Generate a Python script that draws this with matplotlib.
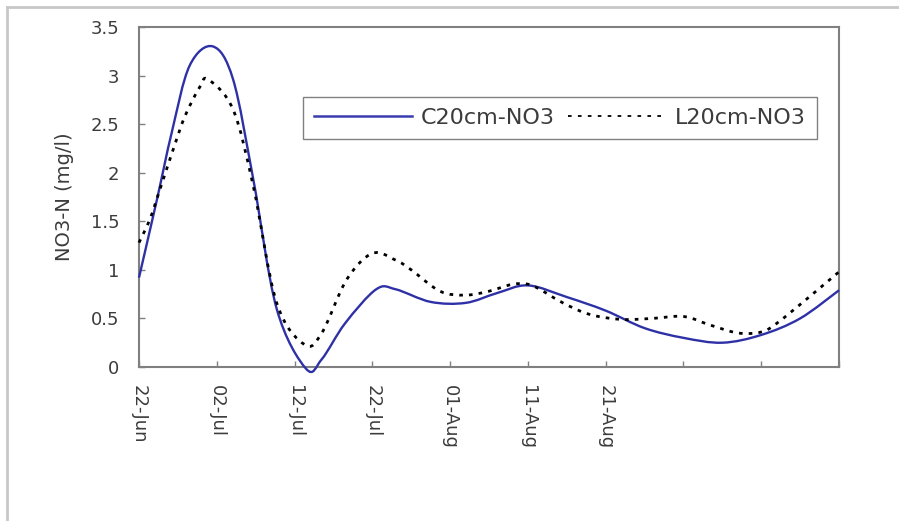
import matplotlib
matplotlib.use("Agg")
import matplotlib.pyplot as plt
from matplotlib.path import Path
from matplotlib.patches import PathPatch
from matplotlib.lines import Line2D
import numpy as np

# days after 22-Jun and NO3-N readings (mg/l)
c20_days = [0, 2.3, 4.2, 6.5, 9.5, 12.1, 14.7, 17.7, 21.5, 23.5, 26.5, 30.5,
            33, 37.5, 42, 46, 50, 55, 60, 65, 70, 75, 80, 85, 90]
c20_no3 = [0.92, 1.72, 2.41, 3.10, 3.30, 2.96, 1.93, 0.60, -0.02, 0.08, 0.45, 0.80,
           0.80, 0.67, 0.66, 0.76, 0.84, 0.72, 0.58, 0.40, 0.30, 0.25, 0.33, 0.50, 0.79]

l20_days = [0, 1.4, 2.7, 4.4, 5.9, 7.8, 8.9, 12.1, 14.7, 17.7, 21.3, 23.5, 26.7, 30,
            33, 35, 38.7, 42, 45, 48, 50.5, 54.5, 58, 62, 66, 70, 73.5, 77, 80, 82,
            86, 90]
l20_no3 = [1.28, 1.52, 1.83, 2.24, 2.58, 2.88, 2.96, 2.65, 1.86, 0.66, 0.23, 0.35,
           0.90, 1.17, 1.10, 1.00, 0.78, 0.74, 0.78, 0.85, 0.84, 0.66, 0.54, 0.49,
           0.50, 0.52, 0.43, 0.35, 0.36, 0.45, 0.71, 0.98]

x_ticks = [0, 10, 20, 30, 40, 50, 60, 70, 80, 90]
x_labels = ['22-Jun', '02-Jul', '12-Jul', '22-Jul', '01-Aug', '11-Aug', '21-Aug', '', '', '']
y_ticks = [0, 0.5, 1, 1.5, 2, 2.5, 3, 3.5]
y_labels = ['0', '0.5', '1', '1.5', '2', '2.5', '3', '3.5']

plt.rcParams['font.family'] = ['DejaVu Sans']


def smooth_path(xs, ys):
    # Catmull-Rom knots turned into cubic Bezier segments (like a smoothed line chart)
    pts = np.column_stack([xs, ys]).astype(float)
    n = len(pts)
    verts = [pts[0]]
    codes = [Path.MOVETO]
    for i in range(n - 1):
        p0 = pts[i - 1] if i > 0 else pts[i]
        p1 = pts[i]
        p2 = pts[i + 1]
        p3 = pts[i + 2] if i + 2 < n else pts[i + 1]
        c1 = p1 + (p2 - p0) / 6.0
        c2 = p2 - (p3 - p1) / 6.0
        verts += [c1, c2, p2]
        codes += [Path.CURVE4] * 3
    return Path(verts, codes)


fig = plt.figure(figsize=(8.99, 5.21), dpi=100)
ax = fig.add_axes([0.1546, 0.2956, 0.7787, 0.6526])

blue = '#2E31A6'
txt = '#3c3c3c'
ax.add_patch(PathPatch(smooth_path(c20_days, c20_no3), fill=False, edgecolor=blue,
                       lw=1.7, clip_on=False, zorder=3))
ax.add_patch(PathPatch(smooth_path(l20_days, l20_no3), fill=False, edgecolor='black',
                       lw=2.0, linestyle=(0, (1.3, 2.2)), clip_on=False, zorder=4))

ax.set_xlim(0, 90)
ax.set_ylim(0, 3.5)
ax.set_xticks(x_ticks)
ax.set_xticklabels(x_labels, rotation=270, fontsize=13, color=txt)
ax.set_yticks(y_ticks)
ax.set_yticklabels(y_labels, fontsize=13, color=txt)
ax.tick_params(axis='both', direction='in', length=4, width=1, color='#808080')
ax.tick_params(axis='y', pad=14)
ax.tick_params(axis='x', pad=13)
for s in ax.spines.values():
    s.set_color('#808080')
    s.set_linewidth(1.5)

ax.set_ylabel('NO3-N (mg/l)', fontsize=14, color=txt, labelpad=12)

handles = [Line2D([], [], color='#3a3db0', lw=1.8),
           Line2D([], [], color='black', lw=1.3, linestyle=(0, (2, 3.5)))]
leg = ax.legend(handles, ['C20cm-NO3', 'L20cm-NO3'], loc='upper left',
                bbox_to_anchor=(0.234, 0.795), ncol=2, fontsize=16, handlelength=4.4,
                handletextpad=0.4, columnspacing=0.6, borderpad=0.5,
                borderaxespad=0, fancybox=False, framealpha=1)
leg.get_frame().set_edgecolor('#808080')
leg.get_frame().set_linewidth(1.0)
for t in leg.get_texts():
    t.set_color(txt)

# light outer frame of the chart area
fig.add_artist(Line2D([0.008, 0.008], [0, 0.987], color='#c8c8c8', lw=2,
                      transform=fig.transFigure))
fig.add_artist(Line2D([0.008, 1.0], [0.987, 0.987], color='#c8c8c8', lw=2,
                      transform=fig.transFigure))

fig.savefig('out.png', dpi=100)
